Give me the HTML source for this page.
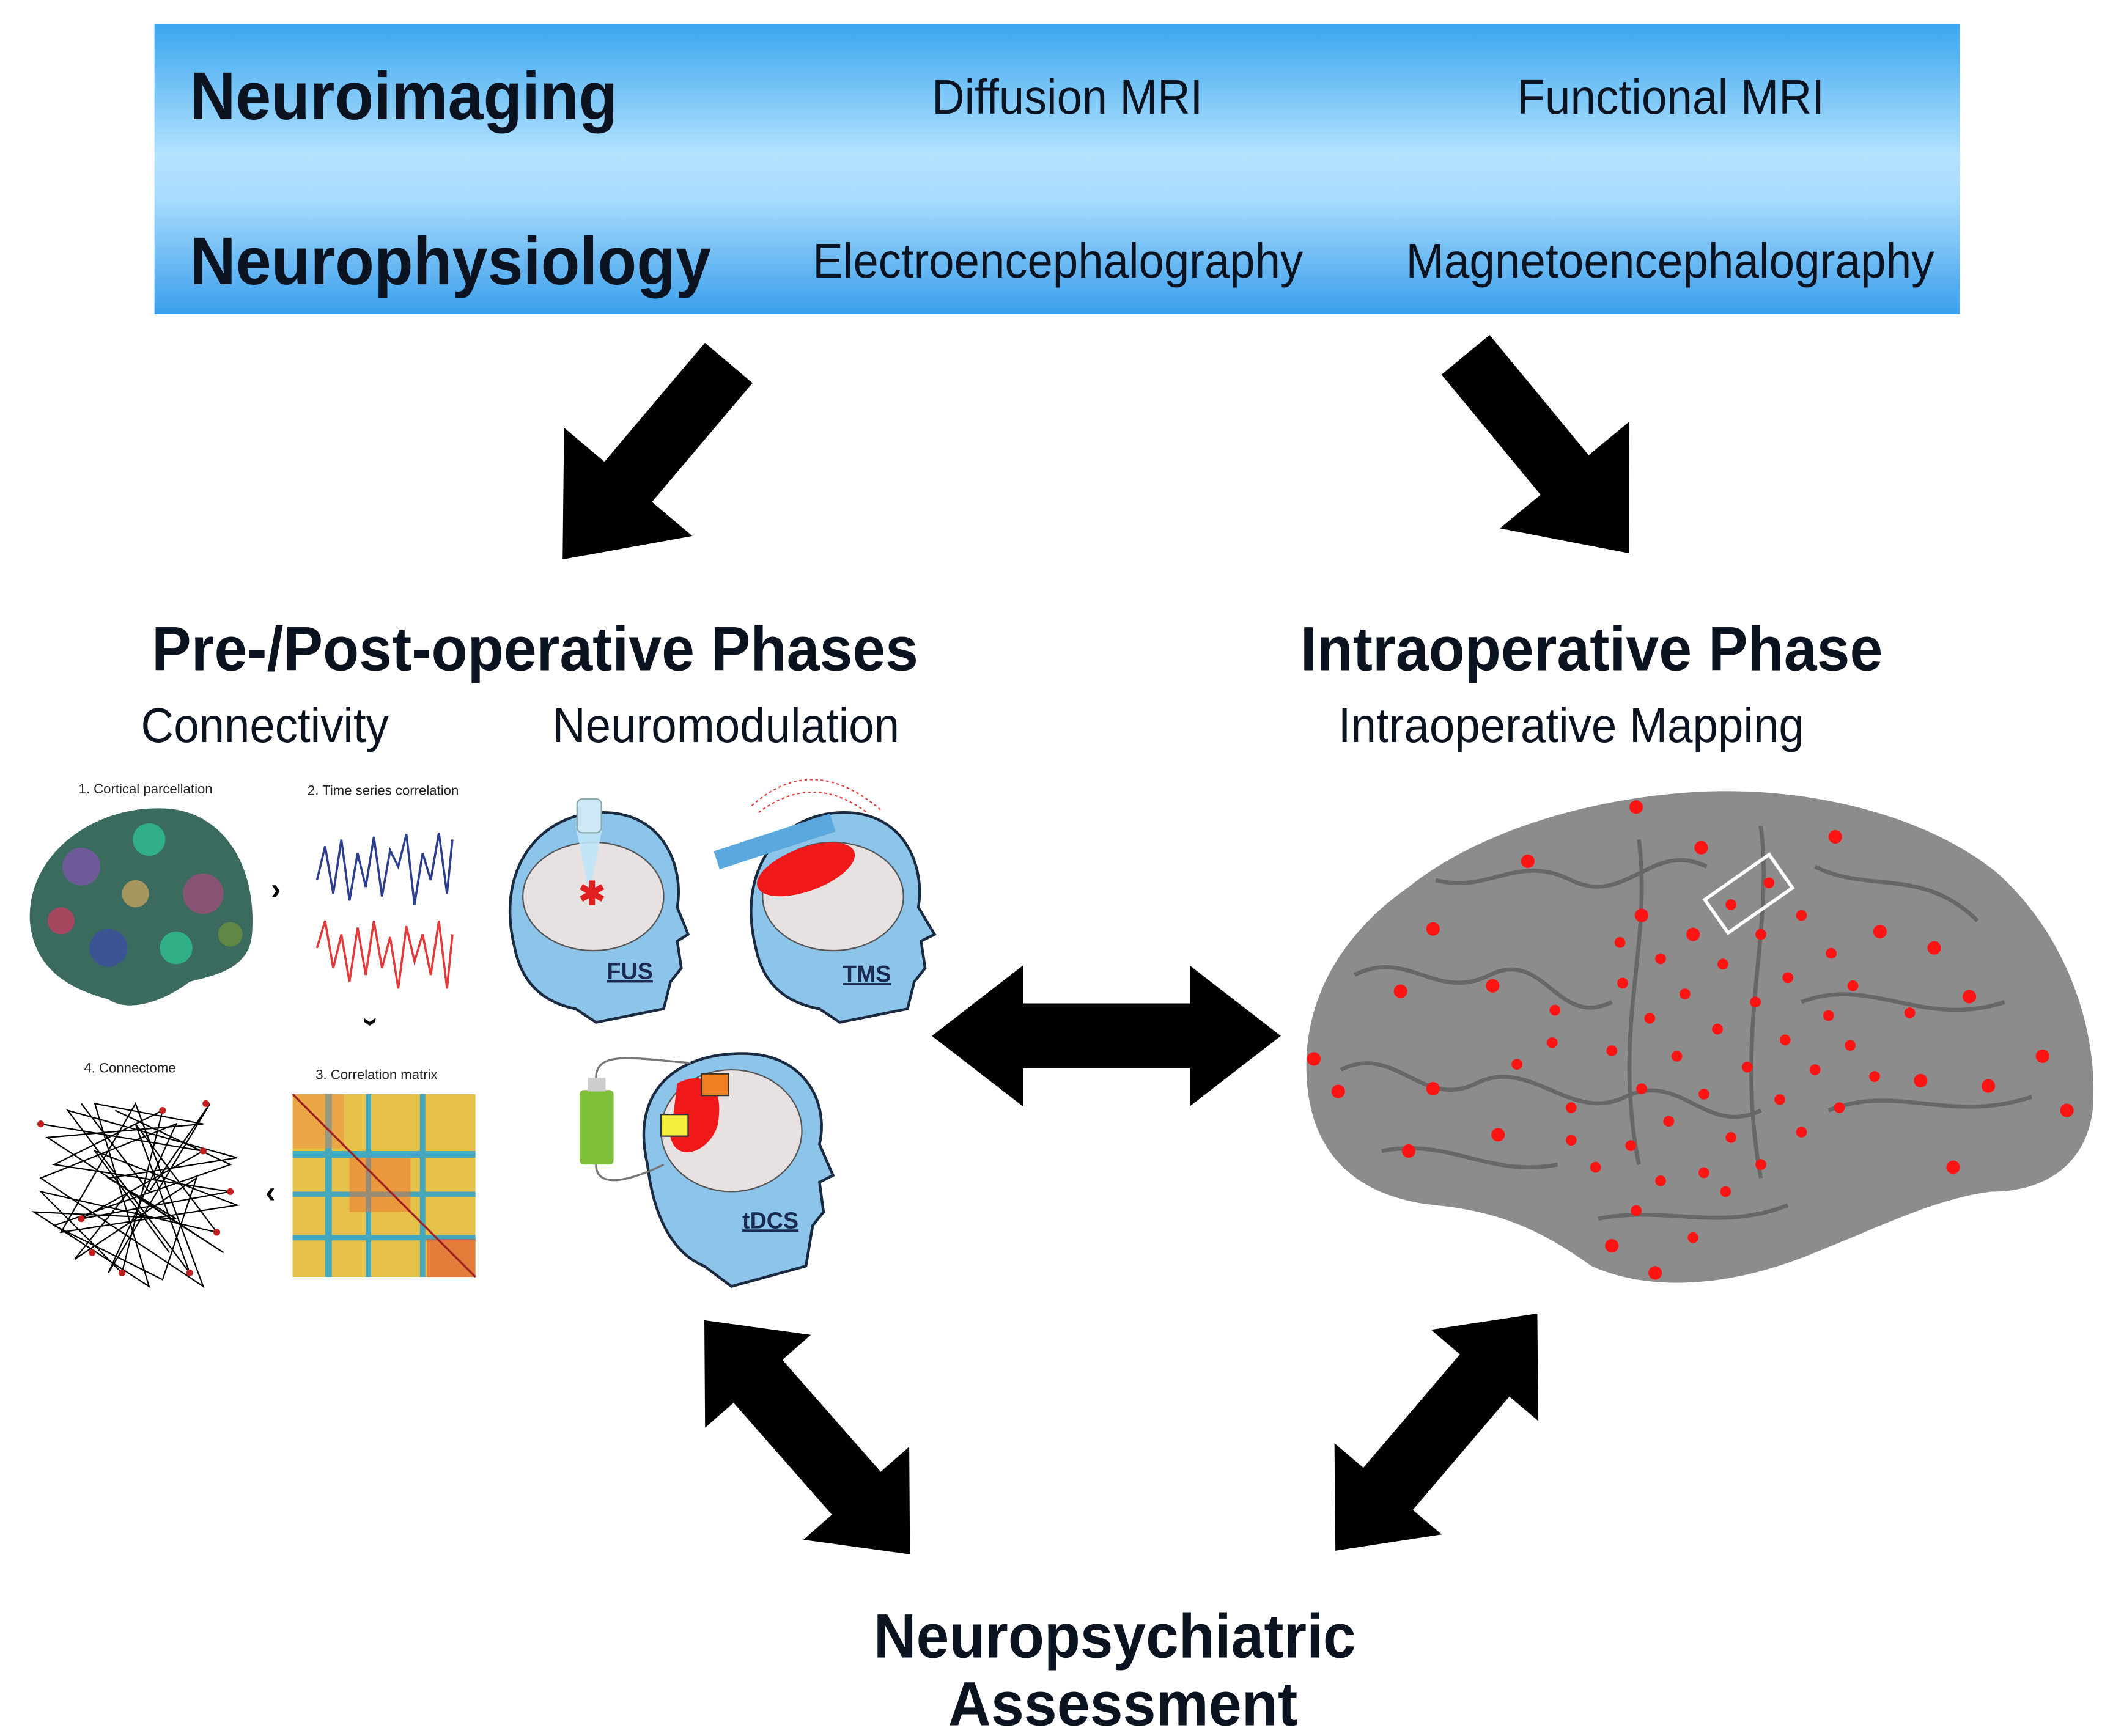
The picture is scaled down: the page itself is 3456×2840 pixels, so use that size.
<!DOCTYPE html>
<html><head><meta charset="utf-8"><style>
html,body{margin:0;padding:0;background:#fff;}
svg{display:block;}
</style></head><body>
<svg width="3456" height="2840" viewBox="0 0 1560 1282" xmlns="http://www.w3.org/2000/svg" font-family="Liberation Sans, Arial, sans-serif">
<defs>
<linearGradient id="bn" x1="0" y1="0" x2="0" y2="1">
<stop offset="0" stop-color="#3aa6ee"/>
<stop offset="0.45" stop-color="#b3e2ff"/>
<stop offset="0.6" stop-color="#a8dcfd"/>
<stop offset="1" stop-color="#3b9fec"/>
</linearGradient>
<g id="arr1"><polygon points="0,-23 115,-23 115,-62 190,0 115,62 115,23 0,23" fill="#000"/></g>
<g id="arr2"><polygon points="0,0 60,-52 60,-24 170,-24 170,-52 230,0 170,52 170,24 60,24 60,52" fill="#000"/></g>
</defs>
<rect width="1560" height="1282" fill="#fff"/>
<rect x="114" y="18" width="1333" height="214" fill="url(#bn)"/>
<g fill="#0b1320">
<text x="140" y="88" font-size="50" font-weight="bold" textLength="316" lengthAdjust="spacingAndGlyphs">Neuroimaging</text>
<text x="140" y="210" font-size="50" font-weight="bold" textLength="385" lengthAdjust="spacingAndGlyphs">Neurophysiology</text>
<text x="688" y="84" font-size="36" textLength="200" lengthAdjust="spacingAndGlyphs">Diffusion MRI</text>
<text x="1120" y="84" font-size="36" textLength="227" lengthAdjust="spacingAndGlyphs">Functional MRI</text>
<text x="600" y="205" font-size="36" textLength="362" lengthAdjust="spacingAndGlyphs">Electroencephalography</text>
<text x="1038" y="205" font-size="36" textLength="390" lengthAdjust="spacingAndGlyphs">Magnetoencephalography</text>
<text x="112" y="495" font-size="46" font-weight="bold" textLength="566" lengthAdjust="spacingAndGlyphs">Pre-/Post-operative Phases</text>
<text x="960" y="495" font-size="46" font-weight="bold" textLength="430" lengthAdjust="spacingAndGlyphs">Intraoperative Phase</text>
<text x="104" y="548" font-size="36" textLength="183" lengthAdjust="spacingAndGlyphs">Connectivity</text>
<text x="408" y="548" font-size="36" textLength="256" lengthAdjust="spacingAndGlyphs">Neuromodulation</text>
<text x="988" y="548" font-size="36" textLength="344" lengthAdjust="spacingAndGlyphs">Intraoperative Mapping</text>
<text x="645" y="1224" font-size="46" font-weight="bold" textLength="356" lengthAdjust="spacingAndGlyphs">Neuropsychiatric</text>
<text x="700" y="1274" font-size="46" font-weight="bold" textLength="258" lengthAdjust="spacingAndGlyphs">Assessment</text>
</g>
<!-- arrows -->
<use href="#arr1" transform="translate(538,268) rotate(130.2)"/>
<use href="#arr1" transform="translate(1082,262) rotate(50.5)"/>
<use href="#arr2" transform="translate(688,765) scale(1.12,1)"/>
<use href="#arr2" transform="translate(520,975) rotate(48.7)"/>
<use href="#arr2" transform="translate(1135,970) rotate(130.4)"/>
<!-- connectivity panel -->
<g font-size="10" fill="#222">
<text x="58" y="586">1. Cortical parcellation</text>
<text x="227" y="587">2. Time series correlation</text>
<text x="62" y="792">4. Connectome</text>
<text x="233" y="797">3. Correlation matrix</text>
</g>
<path d="M22,680 C20,630 70,595 120,597 C165,598 190,640 186,690 C184,715 160,720 140,725 C120,740 95,748 80,738 C50,730 25,715 22,680Z" fill="#3a6b5e"/>
<g opacity="0.8">
<circle cx="60" cy="640" r="14" fill="#7b57a8"/><circle cx="110" cy="620" r="12" fill="#2fbf95"/><circle cx="150" cy="660" r="15" fill="#9b4f7a"/>
<circle cx="80" cy="700" r="14" fill="#3d4fa0"/><circle cx="130" cy="700" r="12" fill="#30c090"/><circle cx="45" cy="680" r="10" fill="#c04060"/>
<circle cx="170" cy="690" r="9" fill="#6b8f40"/><circle cx="100" cy="660" r="10" fill="#c0a060"/>
</g>
<text x="200" y="664" font-size="22" font-weight="bold">›</text>
<polyline points="234,650 240,625 246,660 252,620 258,665 264,630 270,655 276,618 282,662 288,628 294,640 300,616 306,668 312,630 318,650 324,615 330,660 334,620" fill="none" stroke="#2c3e8c" stroke-width="1.6"/>
<polyline points="234,700 240,680 246,715 252,690 258,725 264,685 270,720 276,680 282,715 288,692 294,730 300,684 306,710 312,690 318,720 324,680 330,730 334,690" fill="none" stroke="#e03a3a" stroke-width="1.6"/>
<text x="266" y="768" font-size="22" font-weight="bold" transform="rotate(90 275 760)">›</text>
<rect x="216" y="808" width="135" height="135" fill="#e6c24a"/>
<g fill="#2aa3d0" opacity="0.85">
<rect x="216" y="850" width="135" height="5"/><rect x="216" y="880" width="135" height="4"/><rect x="216" y="912" width="135" height="4"/>
<rect x="240" y="808" width="5" height="135"/><rect x="270" y="808" width="4" height="135"/><rect x="310" y="808" width="4" height="135"/>
</g>
<rect x="216" y="808" width="38" height="40" fill="#f08a40" opacity="0.5"/><rect x="258" y="855" width="45" height="40" fill="#f07030" opacity="0.5"/><rect x="315" y="915" width="36" height="28" fill="#e05030" opacity="0.6"/>
<line x1="216" y1="808" x2="351" y2="943" stroke="#a02020" stroke-width="1.5"/>
<text x="196" y="888" font-size="22" font-weight="bold">‹</text>
<g stroke="#000" stroke-width="1" fill="none">
<path d="M30,830 L150,850 L60,900 L170,880 L40,860 L120,820 L90,940 L30,880 L160,910 L100,830 L140,940 L50,820 L175,855 L80,870 L130,900 L25,895 L110,950 L70,815 L150,830 L35,840 L165,925 L95,880 L55,930 L145,870 L120,945 L40,905 L170,860 L85,820"/>
<path d="M60,815 L110,880 L155,815 L80,940 L130,830 L30,870 L150,950 L100,815 L45,910 L175,890 L70,850 L125,925"/>
</g>
<g fill="#c02020">
<circle cx="30" cy="830" r="2.5"/><circle cx="150" cy="850" r="2.5"/><circle cx="60" cy="900" r="2.5"/><circle cx="170" cy="880" r="2.5"/><circle cx="120" cy="820" r="2.5"/><circle cx="90" cy="940" r="2.5"/><circle cx="160" cy="910" r="2.5"/><circle cx="140" cy="940" r="2.5"/><circle cx="152" cy="815" r="2.5"/><circle cx="68" cy="925" r="2.5"/>
</g>
<!-- heads -->
<g stroke="#1a2a40" stroke-width="2">
<path d="M380,700 C365,640 400,600 445,600 C490,600 505,640 500,670 L508,690 L500,695 L503,715 L495,725 L490,745 L440,755 L425,745 C400,740 385,725 380,700Z" fill="#8dc4ea"/>
<path d="M558,700 C543,640 578,600 623,600 C668,600 683,640 678,670 L690,690 L680,695 L683,715 L675,725 L670,745 L620,755 L605,745 C578,740 563,725 558,700Z" fill="#8dc4ea"/>
<path d="M478,860 C465,805 500,778 548,778 C595,778 612,815 605,845 L615,868 L605,873 L608,895 L600,905 L595,935 L540,950 L520,935 C495,925 482,895 478,860Z" fill="#8dc4ea"/>
</g>
<ellipse cx="438" cy="662" rx="52" ry="40" fill="#e8e1e1" stroke="#555" stroke-width="1"/>
<ellipse cx="615" cy="662" rx="52" ry="40" fill="#e8e1e1" stroke="#555" stroke-width="1"/>
<ellipse cx="540" cy="835" rx="52" ry="45" fill="#e8e1e1" stroke="#555" stroke-width="1"/>
<polygon points="425,610 445,610 435,660" fill="#bfe6f7" opacity="0.9"/>
<rect x="426" y="590" width="18" height="25" rx="4" fill="#cfe8f5" stroke="#8aa" />
<text x="427" y="668" font-size="24" fill="#e02020" font-weight="bold">✱</text>
<ellipse cx="595" cy="642" rx="38" ry="16" fill="#f01818" transform="rotate(-20 595 642)"/>
<rect x="527" y="615" width="90" height="14" fill="#5aa8dd" transform="rotate(-18 570 622)"/>
<path d="M560,600 Q600,570 640,600 M555,595 Q600,555 650,598" fill="none" stroke="#e04040" stroke-width="1" stroke-dasharray="2,2"/>
<path d="M500,800 C520,790 535,800 530,830 C525,850 500,860 495,840Z" fill="#f01818"/>
<rect x="518" y="793" width="20" height="16" fill="#f08020" stroke="#333"/>
<rect x="488" y="823" width="20" height="16" fill="#f5ef40" stroke="#333"/>
<rect x="428" y="805" width="25" height="55" rx="3" fill="#7fc03a"/>
<rect x="434" y="796" width="13" height="10" fill="#ccc"/>
<path d="M440,796 C440,775 470,782 510,785 M440,860 C440,880 470,870 490,860" fill="none" stroke="#777" stroke-width="1.5"/>
<g font-size="17" font-weight="bold" fill="#1a2a50" text-decoration="underline">
<text x="448" y="723">FUS</text><text x="622" y="725">TMS</text><text x="548" y="907">tDCS</text>
</g>
<!-- big brain -->
<path d="M965,800 C960,740 990,690 1040,655 C1090,615 1170,590 1250,585 C1330,580 1420,600 1475,645 C1525,690 1550,760 1545,820 C1540,860 1510,880 1470,880 C1430,885 1390,905 1340,925 C1280,950 1220,955 1175,935 C1140,910 1110,895 1060,890 C1010,885 970,860 965,800Z" fill="#8c8c8c"/>
<g fill="none" stroke="#5e5e5e" stroke-width="3" opacity="0.8">
<path d="M1000,720 C1040,700 1060,740 1100,720 C1140,700 1150,760 1190,740"/>
<path d="M990,790 C1030,770 1050,820 1090,800 C1130,780 1160,830 1200,810 C1240,790 1260,840 1300,820"/>
<path d="M1060,650 C1100,660 1120,630 1160,650 C1200,670 1220,620 1260,640"/>
<path d="M1210,620 C1220,700 1190,760 1210,860"/><path d="M1300,610 C1310,690 1280,760 1300,870"/>
<path d="M1340,640 C1380,660 1420,640 1460,680 M1330,740 C1380,720 1420,760 1480,740 M1350,820 C1400,800 1440,830 1500,810"/>
<path d="M1020,850 C1070,840 1100,870 1150,860 M1180,900 C1230,890 1270,910 1320,890"/>
</g>
<g fill="#ff1414">
<circle cx="1208" cy="596" r="5"/><circle cx="1128" cy="636" r="5"/><circle cx="1256" cy="626" r="5"/><circle cx="1355" cy="618" r="5"/>
<circle cx="1058" cy="686" r="5"/><circle cx="1212" cy="676" r="5"/><circle cx="1250" cy="690" r="5"/><circle cx="1278" cy="668" r="4"/><circle cx="1306" cy="652" r="4"/><circle cx="1330" cy="676" r="4"/><circle cx="1388" cy="688" r="5"/><circle cx="1428" cy="700" r="5"/>
<circle cx="1034" cy="732" r="5"/><circle cx="1102" cy="728" r="5"/><circle cx="1196" cy="696" r="4"/><circle cx="1226" cy="708" r="4"/><circle cx="1272" cy="712" r="4"/><circle cx="1300" cy="690" r="4"/><circle cx="1352" cy="704" r="4"/><circle cx="1368" cy="728" r="4"/><circle cx="1454" cy="736" r="5"/>
<circle cx="1148" cy="746" r="4"/><circle cx="1198" cy="726" r="4"/><circle cx="1218" cy="752" r="4"/><circle cx="1244" cy="734" r="4"/><circle cx="1296" cy="740" r="4"/><circle cx="1320" cy="722" r="4"/><circle cx="1350" cy="750" r="4"/><circle cx="1410" cy="748" r="4"/>
<circle cx="970" cy="782" r="5"/><circle cx="988" cy="806" r="5"/><circle cx="1058" cy="804" r="5"/><circle cx="1120" cy="786" r="4"/><circle cx="1146" cy="770" r="4"/><circle cx="1190" cy="776" r="4"/><circle cx="1238" cy="780" r="4"/><circle cx="1268" cy="760" r="4"/><circle cx="1318" cy="768" r="4"/><circle cx="1366" cy="772" r="4"/><circle cx="1384" cy="795" r="4"/><circle cx="1418" cy="798" r="5"/><circle cx="1468" cy="802" r="5"/><circle cx="1508" cy="780" r="5"/><circle cx="1526" cy="820" r="5"/>
<circle cx="1040" cy="850" r="5"/><circle cx="1106" cy="838" r="5"/><circle cx="1160" cy="818" r="4"/><circle cx="1212" cy="804" r="4"/><circle cx="1258" cy="808" r="4"/><circle cx="1290" cy="788" r="4"/><circle cx="1314" cy="812" r="4"/><circle cx="1340" cy="790" r="4"/><circle cx="1358" cy="818" r="4"/>
<circle cx="1160" cy="842" r="4"/><circle cx="1204" cy="846" r="4"/><circle cx="1232" cy="828" r="4"/><circle cx="1278" cy="840" r="4"/><circle cx="1300" cy="860" r="4"/><circle cx="1330" cy="836" r="4"/>
<circle cx="1178" cy="862" r="4"/><circle cx="1226" cy="872" r="4"/><circle cx="1258" cy="866" r="4"/><circle cx="1274" cy="880" r="4"/><circle cx="1208" cy="894" r="4"/><circle cx="1250" cy="914" r="4"/><circle cx="1190" cy="920" r="5"/><circle cx="1222" cy="940" r="5"/><circle cx="1442" cy="862" r="5"/>
</g>
<rect x="1262" y="645" width="58" height="30" fill="none" stroke="#fff" stroke-width="2.5" transform="rotate(-35 1291 660)"/>
</svg>
</body></html>
